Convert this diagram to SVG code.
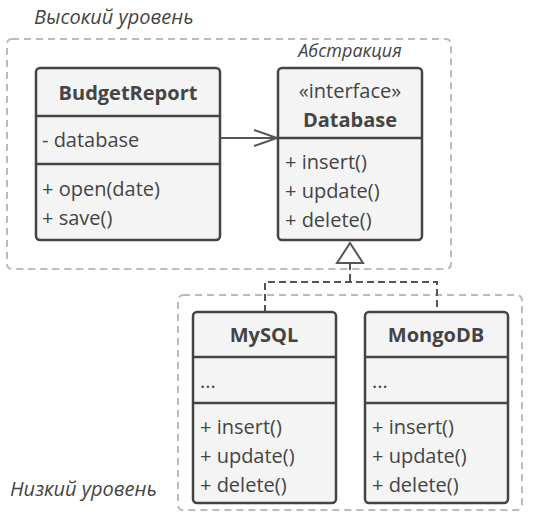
<svg xmlns="http://www.w3.org/2000/svg" width="533" height="517" viewBox="0 0 533 517">
<style>
text{font-family:"Open Sans","Noto Sans","DejaVu Sans",sans-serif;fill:#444}
.t{font-size:20px}
.b{font-size:20px;font-weight:bold;text-anchor:middle}
.s{font-size:20px;text-anchor:middle}
.lbl{font-size:20px;font-style:italic}
.box{fill:#f4f4f4;stroke:#444;stroke-width:2.5}
.div{stroke:#444;stroke-width:2.5}
.zone{fill:none;stroke:#bbb;stroke-width:2;stroke-dasharray:7,5}
.conn{fill:none;stroke:#555;stroke-width:2}
</style>
<text class="lbl" x="34" y="24">Высокий уровень</text>
<text class="lbl" x="10" y="496">Низкий уровень</text>
<rect class="zone" x="7" y="39" width="444" height="230" rx="5"/>
<rect class="zone" x="178" y="295" width="344" height="215" rx="5"/>
<text class="lbl" x="350" y="57" style="font-size:18px;text-anchor:middle">Абстракция</text>
<g id="connectors">
<line class="conn" x1="220" y1="138" x2="277" y2="138"/>
<polyline class="conn" points="254,130 277,138 254,146"/>
<polygon points="350,243 337,263 363,263" fill="#fff" stroke="#555" stroke-width="2"/>
<polyline class="conn" stroke-dasharray="7,4" points="350,263 350,282"/>
<polyline class="conn" stroke-dasharray="7,4" points="265,312 265,282 437,282 437,312"/>
</g>
<g id="BudgetReport">
<rect class="box" x="36" y="68" width="184" height="172" rx="4"/>
<line class="div" x1="36" y1="116" x2="220" y2="116"/>
<line class="div" x1="36" y1="164" x2="220" y2="164"/>
<text class="b" x="128" y="100">BudgetReport</text>
<text class="t" x="42" y="147">- database</text>
<text class="t" x="42" y="196">+ open(date)</text>
<text class="t" x="42" y="225">+ save()</text>
</g>
<g id="Database">
<rect class="box" x="278" y="68" width="144" height="172" rx="4"/>
<line class="div" x1="278" y1="138" x2="422" y2="138"/>
<text class="s" x="350" y="98">«interface»</text>
<text class="b" x="350" y="127">Database</text>
<text class="t" x="285" y="169">+ insert()</text>
<text class="t" x="285" y="198">+ update()</text>
<text class="t" x="285" y="227">+ delete()</text>
</g>
<g id="MySQL">
<rect class="box" x="193" y="312" width="143" height="191" rx="4"/>
<line class="div" x1="193" y1="357" x2="336" y2="357"/>
<line class="div" x1="193" y1="403" x2="336" y2="403"/>
<text class="b" x="264" y="342">MySQL</text>
<text class="t" x="200" y="388">...</text>
<text class="t" x="200" y="434">+ insert()</text>
<text class="t" x="200" y="463">+ update()</text>
<text class="t" x="200" y="492">+ delete()</text>
</g>
<g id="MongoDB">
<rect class="box" x="365" y="312" width="143" height="191" rx="4"/>
<line class="div" x1="365" y1="357" x2="508" y2="357"/>
<line class="div" x1="365" y1="403" x2="508" y2="403"/>
<text class="b" x="436" y="342">MongoDB</text>
<text class="t" x="372" y="388">...</text>
<text class="t" x="372" y="434">+ insert()</text>
<text class="t" x="372" y="463">+ update()</text>
<text class="t" x="372" y="492">+ delete()</text>
</g>
</svg>
